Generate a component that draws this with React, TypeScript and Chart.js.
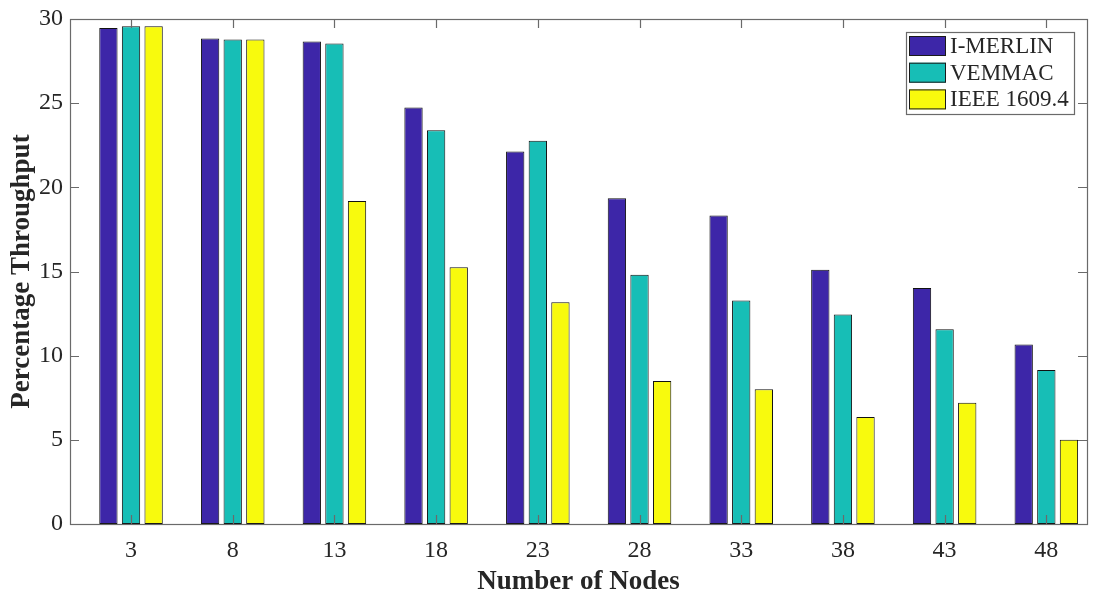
import { useEffect, useRef } from "react";
import { Chart, registerables } from "chart.js";

Chart.register(...registerables);

// Throughput per node count for each MAC protocol
const nodes = [3, 8, 13, 18, 23, 28, 33, 38, 43, 48];
const iMerlin = [29.47, 28.84, 28.66, 24.74, 22.13, 19.35, 18.33, 15.1, 14.02, 10.67];
const vemmac = [29.57, 28.78, 28.54, 23.39, 22.76, 14.8, 13.27, 12.44, 11.57, 9.15];
const ieee16094 = [29.57, 28.78, 19.19, 15.25, 13.17, 8.5, 8.01, 6.36, 7.2, 5.0];
const seriesNames = ["I-MERLIN", "VEMMAC", "IEEE 1609.4"];
const seriesColors = ["#3D26A8", "#17BEB6", "#F8FA0D"];
const yTickValues = [0, 5, 10, 15, 20, 25, 30];

const FONT = "'Liberation Serif', 'Times New Roman', serif";
const AXIS_COLOR = "#6a6a6a";
const TEXT_COLOR = "#262626";

// Closed box around the plot with inward tick marks on all four sides
const framePlugin = {
  id: "frame",
  afterDatasetsDraw(chart: any) {
    const { ctx, chartArea } = chart;
    const { left, right, top, bottom } = chartArea;
    const len = 9;
    ctx.save();
    ctx.strokeStyle = AXIS_COLOR;
    ctx.lineWidth = 1.2;
    ctx.beginPath();
    for (const v of nodes) {
      const x = Math.round(chart.scales.x.getPixelForValue(v)) + 0.5;
      ctx.moveTo(x, bottom);
      ctx.lineTo(x, bottom - len);
      ctx.moveTo(x, top);
      ctx.lineTo(x, top + len);
    }
    for (const v of yTickValues) {
      const y = Math.round(chart.scales.y.getPixelForValue(v)) + 0.5;
      ctx.moveTo(left, y);
      ctx.lineTo(left + len, y);
      ctx.moveTo(right, y);
      ctx.lineTo(right - len, y);
    }
    ctx.stroke();
    ctx.strokeRect(Math.round(left) + 0.5, Math.round(top) + 0.5, Math.round(right - left), Math.round(bottom - top));
    ctx.restore();
  },
};

// Boxed legend in the upper-right corner of the plot
const boxLegendPlugin = {
  id: "boxLegend",
  afterDraw(chart: any) {
    const { ctx, chartArea } = chart;
    const boxRight = chartArea.right - 13;
    const boxW = 168;
    const boxX = boxRight - boxW;
    const boxY = chartArea.top + 13;
    const rowH = 26.7;
    const boxH = 82;
    ctx.save();
    ctx.fillStyle = "#ffffff";
    ctx.fillRect(boxX, boxY, boxW, boxH);
    ctx.strokeStyle = AXIS_COLOR;
    ctx.lineWidth = 1.2;
    ctx.strokeRect(boxX + 0.5, boxY + 0.5, boxW, boxH);
    ctx.font = `23px ${FONT}`;
    ctx.textBaseline = "middle";
    ctx.textAlign = "left";
    chart.data.datasets.forEach((ds: any, i: number) => {
      const sy = boxY + 4 + i * rowH;
      ctx.fillStyle = ds.backgroundColor;
      ctx.fillRect(boxX + 3, sy, 37, 20);
      ctx.strokeStyle = "#1a1a1a";
      ctx.lineWidth = 1;
      ctx.strokeRect(boxX + 3.5, sy + 0.5, 36, 19);
      ctx.fillStyle = TEXT_COLOR;
      ctx.fillText(ds.label, boxX + 44, sy + 11);
    });
    ctx.restore();
  },
};

export default function App() {
  const canvasRef = useRef<HTMLCanvasElement | null>(null);

  useEffect(() => {
    const canvas = canvasRef.current;
    if (!canvas) return;
    const values = [iMerlin, vemmac, ieee16094];
    const chart = new Chart(canvas, {
      type: "bar",
      data: {
        datasets: values.map((arr, i) => ({
          label: seriesNames[i],
          data: nodes.map((n, j) => ({ x: n, y: arr[j] })),
          backgroundColor: seriesColors[i],
          borderColor: "#111111",
          borderWidth: 1,
          borderSkipped: false,
          categoryPercentage: 0.667,
          barPercentage: 0.81,
        })),
      },
      options: {
        responsive: false,
        animation: false,
        devicePixelRatio: 1,
        layout: { padding: { top: 16, right: 9, left: 0, bottom: 0 } },
        plugins: {
          legend: { display: false },
          tooltip: { enabled: false },
        },
        scales: {
          x: {
            type: "linear",
            min: 0,
            max: 50,
            offset: false,
            grid: { display: false, drawTicks: false },
            border: { display: false },
            afterBuildTicks: (scale: any) => {
              scale.ticks = nodes.map((v) => ({ value: v }));
            },
            afterFit: (scale: any) => {
              scale.height = 73;
            },
            ticks: {
              autoSkip: false,
              maxRotation: 0,
              padding: 15,
              color: TEXT_COLOR,
              font: { family: FONT, size: 24, lineHeight: 1 },
            },
            title: {
              display: true,
              text: "Number of Nodes",
              color: TEXT_COLOR,
              font: { family: FONT, size: 27, weight: "bold", lineHeight: 1 },
              padding: { top: 0, bottom: 1 },
            },
          },
          y: {
            min: 0,
            max: 30,
            grid: { display: false, drawTicks: false },
            border: { display: false },
            afterBuildTicks: (scale: any) => {
              scale.ticks = yTickValues.map((v) => ({ value: v }));
            },
            afterFit: (scale: any) => {
              scale.width = 70;
            },
            ticks: {
              padding: 7,
              color: TEXT_COLOR,
              font: { family: FONT, size: 24, lineHeight: 1 },
            },
            title: {
              display: true,
              text: "Percentage Throughput",
              color: TEXT_COLOR,
              font: { family: FONT, size: 27, weight: "bold", lineHeight: 1 },
              padding: { top: 9, bottom: 0 },
            },
          },
        },
      },
      plugins: [framePlugin, boxLegendPlugin],
    } as any);
    return () => chart.destroy();
  }, []);

  return (
    <div style={{ position: "absolute", left: 0, top: 0, width: 1096, height: 597, background: "#ffffff" }}>
      <canvas ref={canvasRef} width={1096} height={597} style={{ display: "block" }} />
    </div>
  );
}
